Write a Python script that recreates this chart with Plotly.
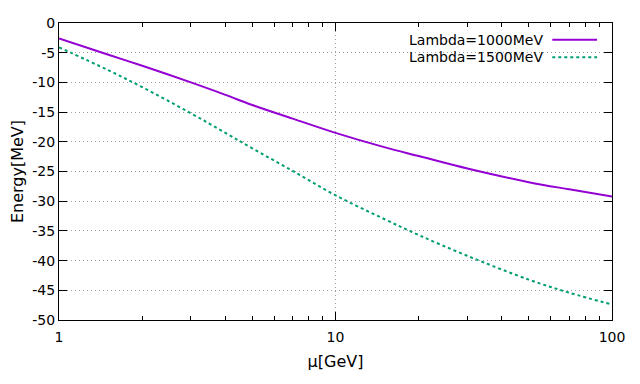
import plotly.graph_objects as go

# Data
mu_gev = [1, 1.5, 2, 3, 4, 5, 7, 10, 15, 20, 30, 50, 70, 100]
energy_lambda_1000 = [-2.6, -5.3, -7.2, -10.0, -12.1, -13.8, -16.1, -18.5, -20.9, -22.4, -24.5, -26.8, -28.0, -29.2]
energy_lambda_1500 = [-4.1, -7.9, -10.8, -15.2, -18.5, -21.1, -24.9, -29.0, -33.0, -35.7, -39.2, -43.2, -45.4, -47.4]
series_names = ["Lambda=1000MeV", "Lambda=1500MeV"]
series_colors = ["#9400D3", "#009E73"]

x_tick_vals = [1, 10, 100]
x_tick_labels = ["1", "10", "100"]
x_minor_vals = [2, 3, 4, 5, 6, 7, 8, 9, 20, 30, 40, 50, 60, 70, 80, 90]
y_tick_vals = [0, -5, -10, -15, -20, -25, -30, -35, -40, -45, -50]
y_tick_labels = ["0", "-5", "-10", "-15", "-20", "-25", "-30", "-35", "-40", "-45", "-50"]

FONT = "DejaVu Sans"

fig = go.Figure()
fig.add_trace(go.Scatter(x=mu_gev, y=energy_lambda_1000, mode="lines", name=series_names[0],
                         line=dict(color=series_colors[0], width=2, shape="spline"), showlegend=False))
fig.add_trace(go.Scatter(x=mu_gev, y=energy_lambda_1500, mode="lines", name=series_names[1],
                         line=dict(color=series_colors[1], width=2, dash="3px,3px", shape="spline"),
                         showlegend=False))

# gnuplot-style legend: right-aligned text with line sample on the right
legend_rows_y = [0.944, 0.885]
for i in range(2):
    fig.add_annotation(x=0.878, y=legend_rows_y[i], xref="paper", yref="paper",
                       text=series_names[i], showarrow=False, xanchor="right", yanchor="middle",
                       font=dict(family=FONT, size=14, color="black"))
    fig.add_shape(type="line", xref="paper", yref="paper", x0=0.892, x1=0.973,
                  y0=legend_rows_y[i], y1=legend_rows_y[i],
                  line=dict(color=series_colors[i], width=2, dash="solid" if i == 0 else "3px,3px"))

# margins compensate for the 8px page body margin
fig.update_layout(
    width=640, height=384,
    margin=dict(l=46, r=36, t=7, b=72),
    paper_bgcolor="white", plot_bgcolor="white",
    font=dict(family=FONT, size=14, color="black"),
    showlegend=False,
)
fig.update_xaxes(
    type="log", range=[0, 2],
    tickvals=x_tick_vals, ticktext=x_tick_labels,
    ticks="inside", ticklen=8, tickcolor="black",
    showline=True, linecolor="black", linewidth=1, mirror="allticks",
    showgrid=True, gridcolor="#a0a0a0", griddash="1px,3px", gridwidth=1,
    minor=dict(tickvals=x_minor_vals, ticks="inside", ticklen=4, tickcolor="black", showgrid=False),
    title=dict(text="μ[GeV]", font=dict(family=FONT, size=16), standoff=12),
    tickfont=dict(family=FONT, size=14),
    ticklabelstandoff=4,
    ticklabeloverflow="allow",
    zeroline=False,
)
fig.update_yaxes(
    range=[-50, 0],
    tickvals=y_tick_vals, ticktext=y_tick_labels,
    ticks="inside", ticklen=8, tickcolor="black",
    showline=True, linecolor="black", linewidth=1, mirror="allticks",
    showgrid=True, gridcolor="#a0a0a0", griddash="1px,3px", gridwidth=1,
    title=dict(text="Energy[MeV]", font=dict(family=FONT, size=16), standoff=6),
    tickfont=dict(family=FONT, size=14),
    ticklabeloverflow="allow",
    zeroline=False,
)

fig.write_html("out.html")
